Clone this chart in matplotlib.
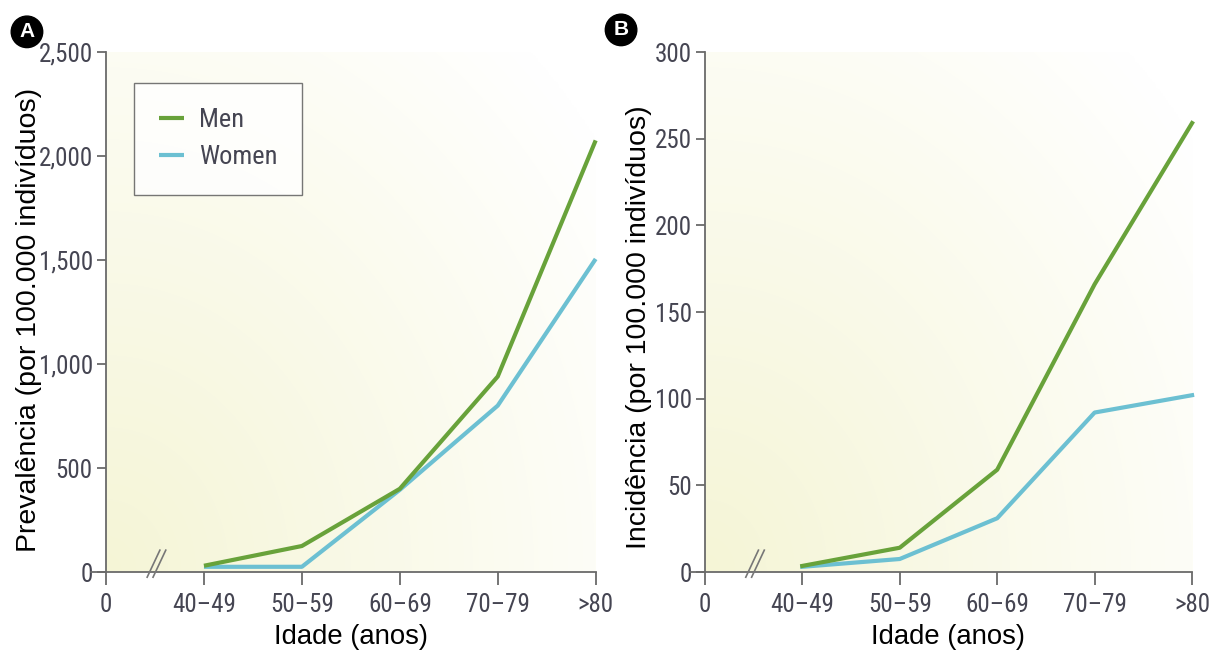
import numpy as np
import matplotlib
matplotlib.use("Agg")
import matplotlib.pyplot as plt
from matplotlib.colors import to_rgb

# ---------------- data ----------------
age_groups = ["40–49", "50–59", "60–69", "70–79", ">80"]
tick_labels = ["0"] + age_groups

prev_men = [30, 125, 400, 940, 2075]
prev_women = [25, 25, 395, 800, 1505]

inc_men = [3.5, 14, 59, 166, 259]
inc_women = [3, 7.5, 31, 92, 102]

prev_yticks = [0, 500, 1000, 1500, 2000, 2500]
prev_yticklabels = ["0", "500", "1,000", "1,500", "2,000", "2,500"]
inc_yticks = [0, 50, 100, 150, 200, 250, 300]
inc_yticklabels = ["0", "50", "100", "150", "200", "250", "300"]

GREEN = "#68a23a"
BLUE = "#6cc0d2"
SPINE = "#6a6a6a"
TICKTXT = "#454552"
COND = ["Liberation Sans Narrow", "Roboto Condensed", "DejaVu Sans"]
LABELF = ["Liberation Sans", "DejaVu Sans"]

fig = plt.figure(figsize=(12.09, 6.5), dpi=100)


def background(ax):
    n = 300
    xx, yy = np.meshgrid(np.linspace(0, 1, n), np.linspace(0, 1, n))
    t = np.clip(np.sqrt(xx ** 2 + (yy * 0.9) ** 2) / 1.25, 0, 1)
    c0 = np.array(to_rgb("#f5f5d6"))
    c1 = np.array(to_rgb("#ffffff"))
    img = c0[None, None, :] * (1 - t[..., None]) + c1[None, None, :] * t[..., None]
    ax.imshow(img, extent=[0, 1, 0, 1], transform=ax.transAxes, origin="lower",
              aspect="auto", zorder=0, interpolation="bilinear")


def setup(ax, yticks, yticklabels, ymax, ylabel, ylab_xy):
    background(ax)
    ax.set_xlim(0, 5)
    ax.set_ylim(0, ymax)
    ax.set_xticks(range(len(tick_labels)))
    ax.set_xticklabels(tick_labels, family=COND, fontsize=18, color=TICKTXT)
    ax.set_yticks(yticks)
    ax.set_yticklabels(yticklabels, family=COND, fontsize=18, color=TICKTXT)
    for s in ["top", "right"]:
        ax.spines[s].set_visible(False)
    for s in ["left", "bottom"]:
        ax.spines[s].set_color(SPINE)
        ax.spines[s].set_linewidth(1.3)
    ax.spines["bottom"].set_bounds(-0.15, 5)
    ax.tick_params(axis="x", length=9, width=1.3, color=SPINE, pad=6, direction="out")
    ax.tick_params(axis="y", length=6.5, width=1.3, color=SPINE, pad=3, direction="out")
    ax.set_xlabel("Idade (anos)", family=LABELF, fontsize=19.8, labelpad=5)
    ax.set_ylabel(ylabel, family=LABELF, fontsize=20.5)
    ax.yaxis.set_label_coords(*ylab_xy)
    # axis break marks
    for dx in (0.0, 0.012):
        ax.plot([0.084 + dx, 0.11 + dx], [-0.01, 0.042], transform=ax.transAxes,
                color="#777777", lw=1.2, clip_on=False, zorder=5)


axA = fig.add_axes([0.0877, 0.12, 0.405, 0.80])
setup(axA, prev_yticks, prev_yticklabels, 2500,
      "Prevalência (por 100.000 indivíduos)", (-0.13, 0.485))
xs = np.arange(1, len(age_groups) + 1)
axA.plot(xs, prev_women, color=BLUE, lw=3.0, label="Women", zorder=3,
         solid_capstyle="butt", clip_on=False)
axA.plot(xs, prev_men, color=GREEN, lw=3.0, label="Men", zorder=4,
         solid_capstyle="butt", clip_on=False)
handles, labels = axA.get_legend_handles_labels()
leg = axA.legend(handles[::-1], labels[::-1], loc="upper left",
                 bbox_to_anchor=(0.057, 0.94), prop={"family": COND, "size": 19},
                 frameon=True, fancybox=False, handlelength=0.95, handletextpad=0.55,
                 borderpad=0.95, labelspacing=0.5, borderaxespad=0)
leg.get_frame().set_edgecolor("#555555")
leg.get_frame().set_linewidth(1.0)
leg.get_frame().set_facecolor("white")
for t in leg.get_texts():
    t.set_color(TICKTXT)

axB = fig.add_axes([0.583, 0.12, 0.403, 0.80])
setup(axB, inc_yticks, inc_yticklabels, 300,
      "Incidência (por 100.000 indivíduos)", (-0.109, 0.47))
axB.plot(xs, inc_women, color=BLUE, lw=3.0, zorder=3, clip_on=False)
axB.plot(xs, inc_men, color=GREEN, lw=3.0, zorder=4, clip_on=False)

for x, y, s in [(0.0223, 0.951, "A"), (0.5137, 0.954, "B")]:
    fig.text(x, y, s, ha="center", va="center", color="white", fontweight="bold",
             fontsize=15, family=LABELF,
             bbox=dict(boxstyle="circle,pad=0.3", fc="black", ec="black"))

fig.savefig("out.png", dpi=100)
